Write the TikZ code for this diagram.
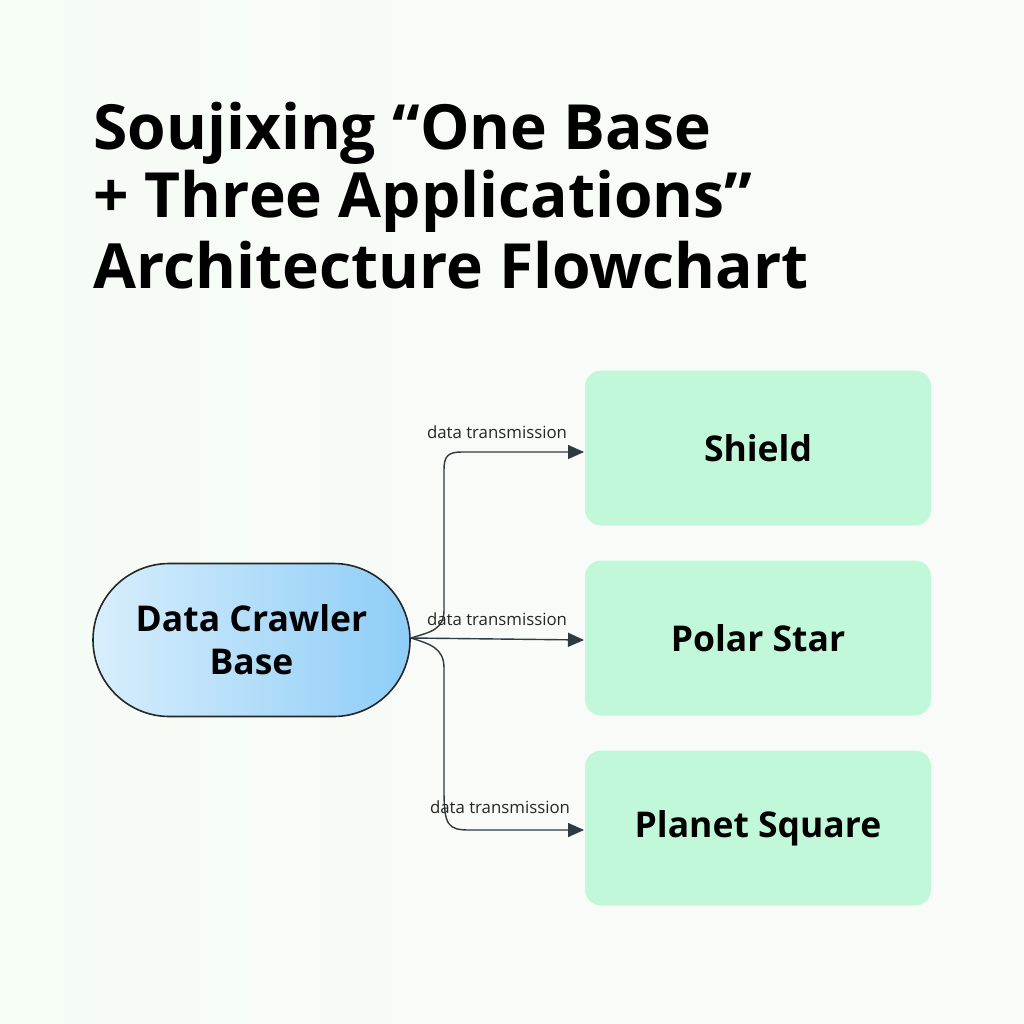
\documentclass[tikz,border=0pt]{standalone}
\usepackage{fontspec}
\setmainfont{Open Sans}
\usetikzlibrary{arrows.meta,shapes.misc}
\definecolor{bgc}{HTML}{F9FBF8}
\definecolor{greenbox}{HTML}{C2F8DA}
\definecolor{blueL}{HTML}{D8EEFC}
\definecolor{blueR}{HTML}{8ECDF7}
\definecolor{linec}{HTML}{2E3A40}
\tikzset{
  appbox/.style={rounded corners=16pt, fill=greenbox, minimum width=346pt, minimum height=155pt, inner sep=0pt, font=\fontsize{35.5}{40}\selectfont\bfseries},
  basebox/.style={rounded rectangle, draw=black!85, line width=1.6pt, left color=blueL, right color=blueR, minimum width=317pt, minimum height=153pt, inner sep=0pt, align=center, font=\fontsize{35.5}{43}\selectfont\bfseries},
  conn/.style={draw=linec, line width=1.4pt, -{Triangle[length=16pt,width=14pt]}},
  lbl/.style={font=\fontsize{16.8}{17}\selectfont, text=black!85, inner sep=1pt},
  ttl/.style={anchor=base west, inner sep=0pt, font=\fontsize{62.3}{70}\selectfont\bfseries}
}
\begin{document}
\begin{tikzpicture}[x=1pt,y=-1pt]
\useasboundingbox (0,0) rectangle (1024,1024);
\fill[bgc] (0,0) rectangle (1024,1024);
\shade[left color=green!5!white, right color=bgc, opacity=0.5] (0,0) rectangle (512,1024);
\node[ttl] (title1) at (93,150) {Soujixing “One Base};
\node[ttl] (title2) at (93,218) {+ Three Applications”};
\node[ttl] (title3) at (93,288) {Architecture Flowchart};
\node[basebox] (base) at (251.5,640) {Data Crawler\\Base};
\node[appbox] (shield) at (758,448) {Shield};
\node[appbox] (polar) at (758,638) {Polar Star};
\node[appbox] (planet) at (758,828) {Planet Square};
\coordinate (o) at (411,638);
\coordinate (t1) at (584,452);
\coordinate (t2) at (584,640);
\coordinate (t3) at (584,830);
\draw[conn] (o) .. controls (430,632) and (444,630) .. (444,610) -- (444,470) .. controls (444,456) and (448,452) .. (462,452) -- (t1);
\draw[conn] (o) -- (t2);
\draw[conn] (o) .. controls (430,644) and (444,648) .. (444,668) -- (444,790) .. controls (444,826) and (448,830) .. (470,830) -- (t3);
\node[lbl] (l1) at (497,432) {data transmission};
\node[lbl] (l2) at (497,619) {data transmission};
\node[lbl] (l3) at (500,807) {data transmission};
\end{tikzpicture}
\end{document}
